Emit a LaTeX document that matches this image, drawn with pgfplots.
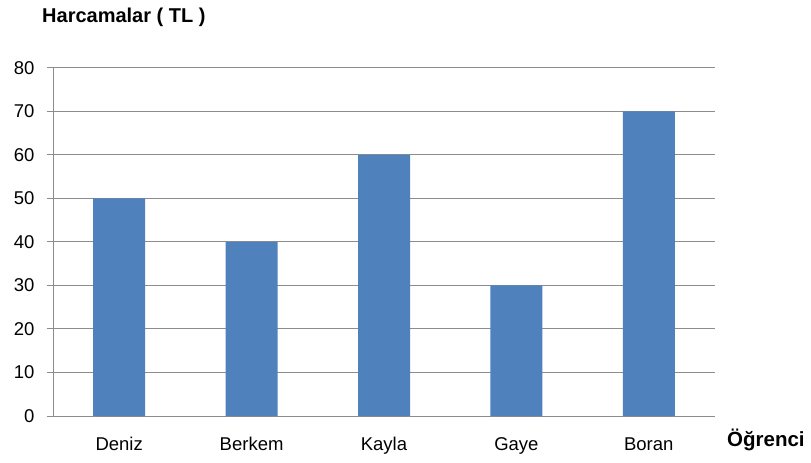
\documentclass[border=0pt]{standalone}
\usepackage{pgfplots}
\pgfplotsset{compat=1.18}
\usepackage{fontspec}
\setmainfont{Liberation Sans}
\definecolor{barblue}{HTML}{4F81BD}
\definecolor{gridgray}{HTML}{8C8C8C}
\begin{document}
\begin{tikzpicture}[x=1pt,y=1pt]
\useasboundingbox (-53,-47) rectangle (758,416);
\begin{axis}[at={(0,0)}, anchor=south west, scale only axis,
  width=662pt, height=348pt,
  xmin=-0.5, xmax=4.5, ymin=0, ymax=80,
  ytick={0,10,...,80},
  xtick={0,1,2,3,4},
  xticklabels={Deniz,Berkem,Kayla,Gaye,Boran},
  extra x ticks={0.5,1.5,2.5,3.5},
  extra x tick labels={},
  extra x tick style={major tick length=6pt, grid=none},
  axis lines*=left,
  axis line style={gridgray, line width=1pt},
  tick align=outside,
  major tick length=6pt,
  tick style={gridgray, line width=1pt},
  x tick style={draw=none},
  extra x tick style={tick style={gridgray, line width=1pt}},
  ymajorgrids, grid style={gridgray, line width=1pt},
  /pgf/number format/assume math mode=true,
  ticklabel style={font=\fontsize{18.5}{22}\selectfont, text=black},
  yticklabel style={xshift=-9pt},
  xticklabel style={yshift=-12pt},
  clip=false,
]
\addplot[ybar, bar width=52pt, fill=barblue, draw=none] coordinates {(0,50) (1,40) (2,60) (3,30) (4,70)};
\end{axis}
\node[anchor=west, font=\bfseries\fontsize{20}{24}\selectfont, inner sep=0pt] at (-11,399) {Harcamalar ( TL )};
\node[anchor=west, font=\bfseries\fontsize{20.5}{24}\selectfont, inner sep=0pt] at (674,-24) {Öğrenci};
\end{tikzpicture}
\end{document}
